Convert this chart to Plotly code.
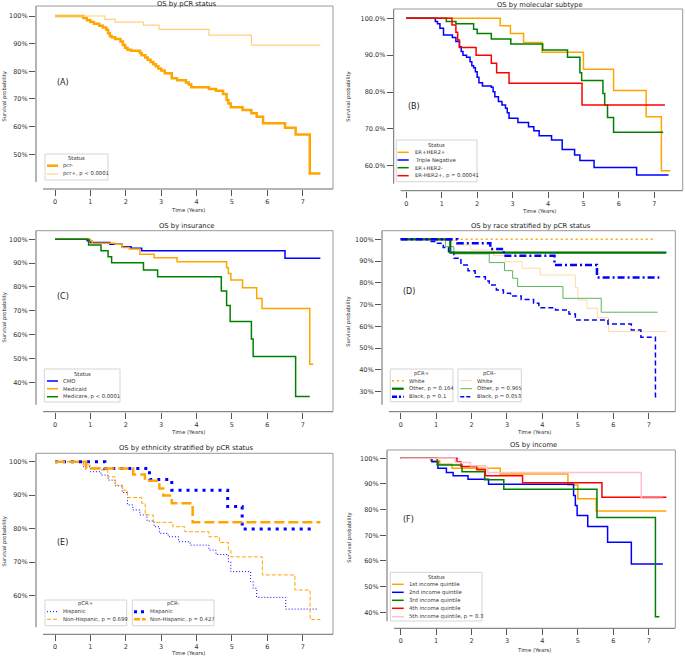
import plotly.graph_objects as go

W, H = 685, 658

# ---------------- data (years, survival %) ----------------
# (A) OS by pCR status
a_neg_t = [0, 0.8, 0.9, 1.0, 1.1, 1.25, 1.35, 1.45, 1.5, 1.55, 1.6, 1.7, 1.85, 1.92, 1.98, 2.05, 2.15,
           2.4, 2.45, 2.55, 2.62, 2.7, 2.78, 2.85, 2.92, 3.0, 3.1, 3.3, 3.45, 3.7, 3.78, 3.85, 4.35,
           4.55, 4.75, 4.85, 4.9, 4.97, 5.3, 5.55, 5.7, 5.88, 6.5, 6.8, 7.2, 7.5]
a_neg_s = [100, 99.3, 98.5, 97.8, 97.2, 96.5, 95.8, 95.0, 93.8, 92.8, 92.3, 91.7, 90.8, 89.5, 88.5, 87.8, 87.4,
           86.6, 85.8, 85.0, 84.2, 83.4, 82.6, 81.8, 81.0, 80.3, 79.3, 77.5, 76.8, 76.0, 75.2, 74.2, 73.6,
           73.0, 71.8, 69.6, 68.4, 67.0, 66.0, 64.8, 63.6, 61.2, 59.6, 57.2, 43.1, 43.1]
a_pos_t = [0, 1.41, 1.7, 2.5, 2.94, 4.35, 5.55, 7.5]
a_pos_s = [100, 98.8, 97.8, 96.7, 95.2, 93.1, 89.5, 89.5]

# (B) OS by molecular subtype
b_erp_her2p_t = [0, 2.65, 2.94, 3.31, 3.83, 5.0, 5.85, 6.77, 7.2, 7.45]
b_erp_her2p_s = [100, 98.0, 95.9, 93.4, 90.8, 86.2, 80.4, 73.3, 58.6, 58.6]
b_tn_t = [0, 0.82, 0.88, 0.95, 1.05, 1.3, 1.4, 1.5, 1.55, 1.6, 1.7, 1.8, 1.85, 1.9, 1.95, 2.0, 2.05,
          2.15, 2.4, 2.45, 2.5, 2.6, 2.7, 2.8, 2.85, 2.9, 3.15, 3.45, 3.6, 3.75, 4.1, 4.4, 4.75, 4.9,
          5.3, 6.5, 7.4]
b_tn_s = [100, 99.1, 98.5, 97.3, 95.5, 94.8, 93.7, 92.3, 91.0, 90.0, 89.4, 88.2, 87.1, 86.6, 85.5, 84.0, 82.5,
          81.6, 81.3, 80.1, 78.7, 77.4, 76.5, 75.6, 74.4, 72.9, 71.7, 70.6, 69.5, 68.1, 67.0, 64.4, 62.9, 61.4,
          59.5, 57.5, 57.5]
b_erp_her2n_t = [0, 1.13, 1.4, 1.9, 2.0, 2.4, 2.95, 3.85, 4.55, 4.9, 4.95, 5.55, 5.6, 5.68, 5.85, 7.25]
b_erp_her2n_s = [100, 99.1, 98.5, 97.0, 95.9, 94.4, 93.0, 91.4, 89.4, 85.2, 83.1, 79.6, 76.5, 73.1, 69.1, 69.1]
b_ern_her2p_t = [0, 1.29, 1.4, 1.45, 1.5, 1.97, 2.4, 2.55, 2.9, 4.96, 7.3]
b_ern_her2p_s = [100, 98.2, 96.2, 94.1, 92.1, 90.0, 87.8, 85.2, 82.4, 76.5, 76.5]

# (C) OS by insurance
c_cmo_t = [0, 0.91, 1.0, 1.55, 1.9, 2.15, 2.45, 6.5, 7.5]
c_cmo_s = [100, 99.4, 98.7, 97.9, 96.9, 96.2, 95.2, 92.0, 92.0]
c_medicaid_t = [0, 1.0, 1.05, 1.7, 1.9, 2.1, 2.4, 2.8, 3.45, 4.85, 4.9, 4.97, 5.3, 5.7, 5.85, 7.2, 7.3]
c_medicaid_s = [100, 99.4, 98.3, 97.9, 96.6, 95.9, 93.7, 92.3, 90.6, 88.1, 85.7, 82.9, 79.7, 75.2, 71.0, 47.6, 47.6]
c_medicare_t = [0, 0.95, 1.3, 1.5, 1.6, 2.5, 2.9, 4.7, 4.85, 4.95, 5.55, 5.6, 6.8, 7.2]
c_medicare_s = [100, 97.6, 95.2, 92.7, 90.2, 87.1, 84.3, 78.3, 72.2, 65.5, 58.2, 50.8, 34.0, 34.0]

# (D) OS by race stratified by pCR status
d_pos_white_t = [0, 7.19]
d_pos_white_s = [100, 100]
d_pos_other_t = [0, 1.40, 7.5]
d_pos_other_s = [100, 93.9, 93.9]
d_pos_black_t = [0, 1.6, 2.53, 2.91, 4.34, 5.54, 7.3]
d_pos_black_s = [100, 98.2, 95.6, 92.5, 88.2, 82.5, 82.5]
d_neg_white_t = [0, 0.9, 1.59, 1.97, 2.62, 2.95, 3.42, 3.94, 4.93, 5.0, 5.26, 5.55, 5.87, 7.5]
d_neg_white_s = [100, 99.4, 97.4, 95.1, 92.5, 89.7, 86.7, 83.6, 77.8, 72.1, 68.3, 64.0, 57.6, 57.6]
d_neg_other_t = [0, 1.26, 1.5, 2.5, 2.93, 3.16, 3.3, 4.58, 5.66, 7.25]
d_neg_other_s = [100, 96.6, 93.3, 89.3, 85.6, 82.1, 78.3, 72.9, 66.5, 66.5]
d_neg_black_t = [0, 0.79, 1.0, 1.2, 1.35, 1.5, 1.7, 1.9, 2.1, 2.39, 2.5, 2.7, 2.9, 3.1, 3.4, 3.75, 3.9,
                 4.37, 4.75, 4.93, 5.85, 6.51, 6.78, 7.19, 7.3]
d_neg_black_s = [100, 99.0, 98.2, 96.2, 93.9, 91.3, 88.2, 85.5, 82.8, 80.9, 79.0, 76.7, 75.2, 74.0, 72.4, 70.6, 68.6,
                 67.5, 65.7, 62.9, 61.1, 58.3, 55.0, 27.7, 27.7]

# (E) OS by ethnicity stratified by pCR status
e_pos_hisp_t = [0, 0.8, 1.0, 1.3, 1.5, 1.7, 1.9, 2.05, 2.2, 2.4, 2.6, 2.8, 2.95, 3.2, 3.49, 3.82, 4.35,
                4.55, 4.9, 4.97, 5.53, 5.6, 5.7, 6.52, 7.4]
e_pos_hisp_s = [100, 98.5, 97.0, 96.0, 94.5, 92.8, 90.8, 87.1, 85.6, 84.1, 82.3, 80.6, 78.6, 77.6, 76.1, 75.1, 73.6,
                72.3, 70.1, 67.2, 64.2, 62.2, 59.5, 56.0, 56.0]
e_pos_nonhisp_t = [0, 0.8, 1.0, 1.3, 1.49, 1.7, 1.91, 2.05, 2.45, 2.55, 2.78, 3.33, 3.67, 4.35, 4.65, 4.9,
                   4.97, 5.86, 6.78, 7.21, 7.5]
e_pos_nonhisp_s = [100, 99.0, 98.2, 97.5, 95.5, 93.0, 91.5, 89.3, 87.6, 84.1, 81.9, 80.6, 79.1, 77.6, 75.9, 73.6,
                   71.6, 66.2, 61.7, 52.9, 52.9]
e_neg_hisp_t = [0, 1.41, 2.67, 3.3, 4.88, 5.29, 7.25]
e_neg_hisp_s = [100, 98.0, 94.7, 91.5, 86.6, 79.9, 79.9]
e_neg_nonhisp_t = [0, 0.88, 2.21, 2.54, 2.95, 3.06, 3.3, 3.89, 7.5]
e_neg_nonhisp_s = [100, 98.0, 96.2, 94.3, 92.0, 89.9, 87.6, 81.9, 81.9]

# (F) OS by income
f_q1_t = [0, 0.84, 1.1, 1.45, 2.81, 4.72, 5.0, 5.52, 7.5]
f_q1_s = [100, 99.0, 97.7, 96.1, 93.9, 89.6, 84.2, 79.5, 79.5]
f_q2_t = [0, 0.88, 1.05, 1.29, 1.48, 1.9, 2.48, 4.88, 4.93, 4.98, 5.28, 5.84, 6.51, 7.4]
f_q2_s = [100, 98.7, 96.1, 94.5, 93.2, 91.8, 89.9, 85.5, 81.6, 77.7, 73.4, 67.3, 58.8, 58.8]
f_q3_t = [0, 1.03, 1.73, 2.37, 2.91, 5.54, 7.19, 7.3]
f_q3_s = [100, 97.4, 94.8, 91.6, 87.9, 76.9, 38.3, 38.3]
f_q4_t = [0, 1.59, 1.7, 2.15, 2.39, 3.44, 5.68, 7.5]
f_q4_s = [100, 98.7, 96.8, 95.5, 93.2, 90.5, 84.8, 84.8]
f_q5_t = [0, 1.54, 1.97, 2.4, 2.46, 6.79, 7.4]
f_q5_s = [100, 98.4, 97.1, 96.1, 94.5, 84.4, 84.4]

x_ticks = [0, 1, 2, 3, 4, 5, 6, 7]
panel_titles = ["OS by pCR status", "OS by molecular subtype", "OS by insurance",
                "OS by race stratified by pCR status", "OS by ethnicity stratified by pCR status",
                "OS by income"]
panel_labels = ["(A)", "(B)", "(C)", "(D)", "(E)", "(F)"]

# ---------------- styles ----------------
ORANGE = "#FFA500"
LORANGE = "#FFD080"
PALEORANGE = "#FFD9A8"
BLUE = "#0000FF"
GREEN = "#008000"
DGREEN = "#007000"
LGREEN = "#5FB35F"
RED = "#FF0000"
PINK = "#FFC0CB"
FONT = "DejaVu Sans"
LEG_FS = 5.3

# series: (panel, name, t, s, color, width, dash)
series = [
    (1, "pcr-", a_neg_t, a_neg_s, ORANGE, 2.5, "solid"),
    (1, "pcr+, p < 0.0001", a_pos_t, a_pos_s, LORANGE, 1.2, "solid"),
    (2, "ER+HER2+", b_erp_her2p_t, b_erp_her2p_s, ORANGE, 1.5, "solid"),
    (2, "Triple Negative", b_tn_t, b_tn_s, BLUE, 1.5, "solid"),
    (2, "ER+HER2-", b_erp_her2n_t, b_erp_her2n_s, GREEN, 1.5, "solid"),
    (2, "ER-HER2+, p = 0.00041", b_ern_her2p_t, b_ern_her2p_s, RED, 1.5, "solid"),
    (3, "CMO", c_cmo_t, c_cmo_s, BLUE, 1.5, "solid"),
    (3, "Medicaid", c_medicaid_t, c_medicaid_s, ORANGE, 1.5, "solid"),
    (3, "Medicare, p < 0.0001", c_medicare_t, c_medicare_s, GREEN, 1.5, "solid"),
    (4, "pCR- White", d_neg_white_t, d_neg_white_s, PALEORANGE, 1.0, "solid"),
    (4, "pCR- Other, p = 0.965", d_neg_other_t, d_neg_other_s, LGREEN, 1.0, "solid"),
    (4, "pCR- Black, p = 0.053", d_neg_black_t, d_neg_black_s, BLUE, 1.5, "5px,3px"),
    (4, "pCR+ White", d_pos_white_t, d_pos_white_s, ORANGE, 1.5, "2px,3px"),
    (4, "pCR+ Other, p = 0.164", d_pos_other_t, d_pos_other_s, DGREEN, 2.2, "solid"),
    (4, "pCR+ Black, p = 0.1", d_pos_black_t, d_pos_black_s, BLUE, 2.5, "7px,3px,2px,3px"),
    (5, "pCR+ Hispanic", e_pos_hisp_t, e_pos_hisp_s, BLUE, 1.0, "1px,2px"),
    (5, "pCR+ Non-Hispanic, p = 0.699", e_pos_nonhisp_t, e_pos_nonhisp_s, ORANGE, 1.0, "4px,2px"),
    (5, "pCR- Hispanic", e_neg_hisp_t, e_neg_hisp_s, BLUE, 3.0, "3px,5px"),
    (5, "pCR- Non-Hispanic, p = 0.427", e_neg_nonhisp_t, e_neg_nonhisp_s, ORANGE, 2.5, "10px,4px"),
    (6, "1st income quintile", f_q1_t, f_q1_s, ORANGE, 1.5, "solid"),
    (6, "2nd income quintile", f_q2_t, f_q2_s, BLUE, 1.5, "solid"),
    (6, "3rd income quintile", f_q3_t, f_q3_s, GREEN, 1.5, "solid"),
    (6, "4th income quintile", f_q4_t, f_q4_s, RED, 1.5, "solid"),
    (6, "5th income quintile, p = 0.3", f_q5_t, f_q5_s, PINK, 1.5, "solid"),
]

# ---------------- layout geometry (pixels) ----------------
# frame (L, R, T, B), x calibration (px of 0, px of 7), y calibration ((v1,py1),(v2,py2))
geom = {
    1: dict(frame=(36, 333, 6, 189), xcal=(55, 302.7), ycal=((1.0, 16), (0.5, 154.3)),
            yt=[0.5, 0.6, 0.7, 0.8, 0.9, 1.0], yfmt=".0%", title_y=3.8, xt_c=188, xt_y=210, yt_x=3.5, yt_y=97),
    2: dict(frame=(393.7, 682.7, 9, 190.7), xcal=(406.3, 654.3), ycal=((1.0, 18.3), (0.6, 165.7)),
            yt=[0.6, 0.7, 0.8, 0.9, 1.0], yfmt=".1%", title_y=5, xt_c=539, xt_y=211, yt_x=347.7, yt_y=97),
    3: dict(frame=(36, 333, 230.7, 411.7), xcal=(55, 302.7), ycal=((1.0, 239.3), (0.4, 382.3)),
            yt=[0.4, 0.5, 0.6, 0.7, 0.8, 0.9, 1.0], yfmt=".0%", title_y=226, xt_c=188, xt_y=432, yt_x=3.5, yt_y=318),
    4: dict(frame=(382, 675.3, 230.7, 411.7), xcal=(400.7, 648.7), ycal=((1.0, 239.3), (0.3, 391.7)),
            yt=[0.3, 0.4, 0.5, 0.6, 0.7, 0.8, 0.9, 1.0], yfmt=".0%", title_y=226, xt_c=533.5, xt_y=432, yt_x=348.7, yt_y=322),
    5: dict(frame=(36, 333, 453.3, 634.3), xcal=(55, 302.7), ycal=((1.0, 461.7), (0.6, 595.7)),
            yt=[0.6, 0.7, 0.8, 0.9, 1.0], yfmt=".0%", title_y=448.3, xt_c=188, xt_y=653, yt_x=3.5, yt_y=542),
    6: dict(frame=(387, 675.3, 450, 628.3), xcal=(400.7, 648.7), ycal=((1.0, 458.3), (0.4, 612.3)),
            yt=[0.4, 0.5, 0.6, 0.7, 0.8, 0.9, 1.0], yfmt=".0%", title_y=445, xt_c=533.5, xt_y=650, yt_x=348.7, yt_y=538),
}


def px(x):
    return x / W


def py(y):
    return 1 - y / H


fig = go.Figure()

for (p, name, t, s, color, width, dash) in series:
    sfx = "" if p == 1 else str(p)
    fig.add_trace(go.Scatter(
        x=t, y=[v / 100 for v in s], mode="lines", name=name, line_shape="hv",
        line=dict(color=color, width=width, dash=dash), showlegend=False,
        xaxis="x" + sfx, yaxis="y" + sfx, hoverinfo="skip"))

shapes = []
annotations = []
layout_axes = {}
SPINE = "#6a6a6a"
for p, g in geom.items():
    sfx = "" if p == 1 else str(p)
    L, R, T, B = g["frame"]
    x0p, x7p = g["xcal"]
    k = (x7p - x0p) / 7.0
    xr = [(L - x0p) / k, (R - x0p) / k]
    (v1, p1), (v2, p2) = g["ycal"]
    vy = lambda yy: v1 + (yy - p1) * (v2 - v1) / (p2 - p1)
    yr = [vy(B), vy(T)]
    layout_axes["xaxis" + sfx] = dict(
        domain=[px(L), px(R)], range=xr, anchor="y" + sfx, tickvals=x_ticks,
        ticks="outside", ticklen=6, tickwidth=1, tickcolor="#555", showgrid=False, zeroline=False,
        showline=False, tickfont=dict(size=6.5, color="#333", family=FONT), fixedrange=True)
    layout_axes["yaxis" + sfx] = dict(
        domain=[py(B), py(T)], range=yr, anchor="x" + sfx, tickvals=g["yt"], tickformat=g["yfmt"],
        ticks="outside", ticklen=6, tickwidth=1, tickcolor="#555", showgrid=False, zeroline=False,
        showline=False, tickfont=dict(size=6.5, color="#333", family=FONT), fixedrange=True)
    # frame with offset spines
    shapes += [
        dict(type="line", xref="paper", yref="paper", x0=px(L), x1=px(L), y0=py(T), y1=py(B - 7),
             line=dict(color=SPINE, width=1)),
        dict(type="line", xref="paper", yref="paper", x0=px(L + 7), x1=px(R), y0=py(B), y1=py(B),
             line=dict(color=SPINE, width=1)),
        dict(type="line", xref="paper", yref="paper", x0=px(L), x1=px(R), y0=py(T), y1=py(T),
             line=dict(color="#999", width=1)),
        dict(type="line", xref="paper", yref="paper", x0=px(R), x1=px(R), y0=py(T), y1=py(B),
             line=dict(color="#999", width=1)),
    ]
    annotations += [
        dict(text=panel_titles[p - 1], xref="paper", yref="paper", x=px((L + R) / 2 + 2), y=py(g["title_y"]),
             xanchor="center", yanchor="middle", showarrow=False, font=dict(size=6.8, color="#222", family=FONT)),
        dict(text="Time (Years)", xref="paper", yref="paper", x=px(g["xt_c"]), y=py(g["xt_y"]),
             xanchor="center", yanchor="middle", showarrow=False, font=dict(size=5.4, color="#333", family=FONT)),
        dict(text="Survival probability", xref="paper", yref="paper", x=px(g["yt_x"]), y=py(g["yt_y"]),
             xanchor="center", yanchor="middle", textangle=-90, showarrow=False,
             font=dict(size=5.2, color="#333", family=FONT)),
        dict(text=panel_labels[p - 1], xref="x" + sfx, yref="y" + sfx, x=0, y=0.76,
             xanchor="left", yanchor="middle", showarrow=False, font=dict(size=8, color="#222", family=FONT)),
    ]


# ---------------- legends (drawn) ----------------
def add_legend(box, title, title_y, lx0, lx1, tx, entries):
    x0, y0, x1, y1 = box
    shapes.append(dict(type="rect", xref="paper", yref="paper", x0=px(x0), x1=px(x1), y0=py(y1), y1=py(y0),
                       line=dict(color="#d5d5d5", width=1), fillcolor="rgba(255,255,255,0.85)", layer="above"))
    annotations.append(dict(text=title, xref="paper", yref="paper", x=px((x0 + x1) / 2), y=py(title_y),
                            xanchor="center", yanchor="middle", showarrow=False,
                            font=dict(size=LEG_FS, color="#333", family=FONT)))
    for (yy, label, color, width, dash) in entries:
        shapes.append(dict(type="line", xref="paper", yref="paper", x0=px(lx0), x1=px(lx1), y0=py(yy), y1=py(yy),
                           line=dict(color=color, width=width, dash=dash), layer="above"))
        annotations.append(dict(text=label, xref="paper", yref="paper", x=px(tx), y=py(yy),
                                xanchor="left", yanchor="middle", showarrow=False,
                                font=dict(size=LEG_FS, color="#333", family=FONT)))


add_legend((45, 154, 108, 180), "Status", 158, 47, 58, 61,
           [(165.7, "pcr-", ORANGE, 2.5, "solid"), (174, "pcr+, p < 0.0001", LORANGE, 1.2, "solid")])
add_legend((396.3, 140, 477, 181.7), "Status", 145, 397.5, 408.7, 412.7,
           [(152.3, "ER+HER2+", ORANGE, 1.5, "solid"), (160, "Triple Negative", BLUE, 1.5, "solid"),
            (167.7, "ER+HER2-", GREEN, 1.5, "solid"), (175.7, "ER-HER2+, p = 0.00041", RED, 1.5, "solid")])
add_legend((44.3, 369, 120, 402), "Status", 373.7, 47, 58, 61,
           [(381, "CMO", BLUE, 1.5, "solid"), (388.7, "Medicaid", ORANGE, 1.5, "solid"),
            (396.7, "Medicare, p < 0.0001", GREEN, 1.5, "solid")])
add_legend((390.3, 369, 453, 401.7), "pCR+", 373.3, 392, 403.7, 407,
           [(380.7, "White", ORANGE, 1.5, "2px,3px"), (388.7, "Other, p = 0.164", DGREEN, 2.2, "solid"),
            (396.7, "Black, p = 0.1", BLUE, 2.5, "5px,2px,2px,2px")])
add_legend((458, 369, 521.3, 401.7), "pCR-", 373.3, 460.3, 472, 474.7,
           [(380.7, "White", PALEORANGE, 1.0, "solid"), (388.7, "Other, p = 0.965", LGREEN, 1.0, "solid"),
            (396.7, "Black, p = 0.053", BLUE, 1.5, "4px,2px")])
add_legend((45, 600, 126.7, 625.7), "pCR+", 603.3, 47, 58.3, 61,
           [(611.7, "Hispanic", BLUE, 1.0, "1px,2px"), (619.3, "Non-Hispanic, p = 0.699", ORANGE, 1.0, "4px,2px")])
add_legend((132.3, 600, 214, 625.7), "pCR-", 603.3, 134, 145.7, 148.3,
           [(611.7, "Hispanic", BLUE, 3.0, "3px,4px"), (619.3, "Non-Hispanic, p = 0.427", ORANGE, 2.5, "6px,2px")])
add_legend((390.3, 572.3, 482, 621), "Status", 576.7, 392, 403.7, 407,
           [(584.3, "1st income quintile", ORANGE, 1.5, "solid"), (592.3, "2nd income quintile", BLUE, 1.5, "solid"),
            (600.3, "3rd income quintile", GREEN, 1.5, "solid"), (608.3, "4th income quintile", RED, 1.5, "solid"),
            (616.7, "5th income quintile, p = 0.3", PINK, 1.5, "solid")])

fig.update_layout(
    width=W, height=H, autosize=False, margin=dict(l=0, r=0, t=0, b=0),
    paper_bgcolor="white", plot_bgcolor="white", showlegend=False,
    font=dict(family=FONT, size=7, color="#333"),
    shapes=shapes, annotations=annotations, **layout_axes)

# the page's default body margin would shift the figure; remove it so the figure fills the window
fig.write_html("out.html", config={"displayModeBar": False},
               post_script="document.body.style.margin='0px';document.body.style.overflow='hidden';")
